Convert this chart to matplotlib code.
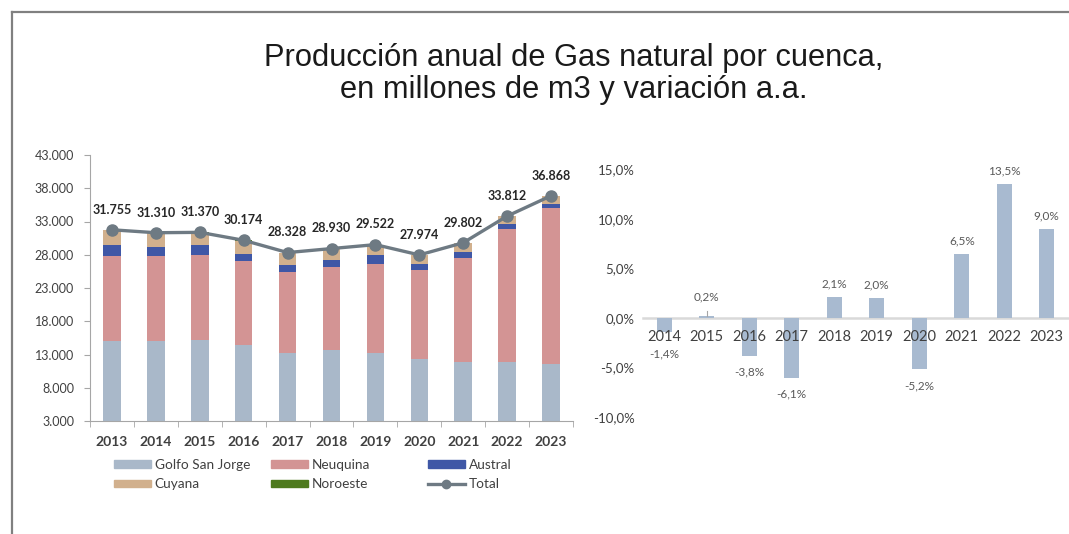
import matplotlib.pyplot as plt
from matplotlib.lines import Line2D
from matplotlib.patches import Patch

# data
years = [2013, 2014, 2015, 2016, 2017, 2018, 2019, 2020, 2021, 2022, 2023]
golfo = [15050, 15050, 15150, 14400, 13300, 13650, 13300, 12300, 11800, 11800, 11550]
neuquina = [12800, 12700, 12800, 12600, 12050, 12500, 13250, 13350, 15750, 20000, 23500]
austral = [1650, 1400, 1450, 1150, 1050, 1100, 1450, 1000, 850, 750, 600]
cuyana = [2150, 2060, 1870, 1930, 1850, 1610, 1450, 1260, 1340, 1210, 1170]
noroeste = [100, 100, 100, 90, 80, 70, 70, 60, 60, 50, 50]
total = [31755, 31310, 31370, 30174, 28328, 28930, 29522, 27974, 29802, 33812, 36868]

var_years = [2014, 2015, 2016, 2017, 2018, 2019, 2020, 2021, 2022, 2023]
variacion = [-1.4, 0.2, -3.8, -6.1, 2.1, 2.0, -5.2, 6.5, 13.5, 9.0]

c_golfo = '#A9B8C9'
c_neuq = '#D39494'
c_austral = '#3F57A6'
c_cuyana = '#D1B08D'
c_noroeste = '#4E7A1E'
c_total = '#6E7A83'
axis_gray = '#A6A6A6'
txt = '#404040'

plt.rcParams['font.family'] = ['Lato', 'DejaVu Sans']

fig = plt.figure(figsize=(10.69, 5.34), dpi=100)

# frame lines (top and left)
fig.add_artist(Line2D([12 / 1069, 1], [1 - 12 / 534, 1 - 12 / 534], color='#808080', lw=1.6))
fig.add_artist(Line2D([12 / 1069, 12 / 1069], [0, 1 - 12 / 534], color='#808080', lw=1.6))

fig.text(574 / 1069, 1 - 74 / 534,
         'Producción anual de Gas natural por cuenca,\nen millones de m3 y variación a.a.',
         ha='center', va='center', fontsize=22.2, family='Liberation Sans',
         color='#1a1a1a', linespacing=1.1)

# ---- left: stacked bars + total line
ax = fig.add_axes([90 / 1069, 1 - 421 / 534, 483 / 1069, 266 / 534])
x = list(range(len(years)))
w = 0.4
bottom = [0] * len(years)
for vals, col in [(golfo, c_golfo), (neuquina, c_neuq), (austral, c_austral),
                  (cuyana, c_cuyana), (noroeste, c_noroeste)]:
    ax.bar(x, vals, w, bottom=bottom, color=col, zorder=2)
    bottom = [b + v for b, v in zip(bottom, vals)]

ax.plot(x, total, color=c_total, lw=2.4, marker='o', ms=8, zorder=3)
for xi, t in zip(x, total):
    ax.annotate(f'{t:,}'.replace(',', '.'), (xi, t), xytext=(0, 14.5),
                textcoords='offset points', ha='center', va='center',
                fontsize=9, fontweight='bold', color='#262626')

ax.set_ylim(3000, 43000)
ax.set_xlim(-0.5, len(years) - 0.5)
ax.set_yticks(range(3000, 43001, 5000))
ax.set_yticklabels([f'{v:,}'.replace(',', '.') for v in range(3000, 43001, 5000)])
ax.set_xticks(x)
ax.set_xticklabels(years, fontweight='bold')
ax.set_xticks([i - 0.5 for i in range(len(years) + 1)], minor=True)
ax.tick_params(axis='x', which='major', length=0, pad=11, labelsize=10, colors=txt)
ax.tick_params(axis='x', which='minor', length=4, color=axis_gray)
ax.tick_params(axis='y', length=4, color=axis_gray, labelsize=9, colors=txt, pad=7.5)
for s in ['top', 'right']:
    ax.spines[s].set_visible(False)
for s in ['left', 'bottom']:
    ax.spines[s].set_color(axis_gray)

# legend, three columns placed separately
legend_cols = [
    ([Patch(color=c_golfo), Patch(color=c_cuyana)], ['Golfo San Jorge', 'Cuyana'], 114),
    ([Patch(color=c_neuq), Patch(color=c_noroeste)], ['Neuquina', 'Noroeste'], 271),
    ([Patch(color=c_austral), Line2D([], [], color=c_total, lw=2.4, marker='o', ms=6)],
     ['Austral', 'Total'], 428),
]
for handles, labels, xpos in legend_cols:
    fig.legend(handles, labels, loc='upper left', bbox_to_anchor=(xpos / 1069, 1 - 459 / 534),
               frameon=False, fontsize=9.8, handlelength=2.7, handleheight=0.45,
               handletextpad=0.3, labelspacing=0.55, borderpad=0, borderaxespad=0,
               labelcolor=txt)

# ---- right: annual variation
ax2 = fig.add_axes([643 / 1069, 1 - 417 / 534, 425 / 1069, 247.5 / 534])
ax2.set_axisbelow(False)
x2 = list(range(len(var_years)))
ax2.bar(x2, variacion, 0.36, color='#A8BAD0', zorder=1)
for xi, v in zip(x2, variacion):
    lab = f'{v:.1f}%'.replace('.', ',')
    if v >= 0:
        y = max(v, 0.75)
        ax2.annotate(lab, (xi, y), xytext=(0, 9.5), textcoords='offset points',
                     ha='center', va='center', fontsize=8.5, color='#595959')
        if y > v:
            ax2.plot([xi, xi], [v, y], color='#A6A6A6', lw=0.8, zorder=1)
    else:
        y = min(v, -2.0)
        ax2.annotate(lab, (xi, y), xytext=(0, -11.5), textcoords='offset points',
                     ha='center', va='center', fontsize=8.5, color='#595959')

ax2.set_ylim(-10, 15)
ax2.set_xlim(-0.5, len(var_years) - 0.5)
ax2.set_yticks([-10, -5, 0, 5, 10, 15])
ax2.set_yticklabels([f'{v:.1f}%'.replace('.', ',') for v in [-10, -5, 0, 5, 10, 15]])
ax2.set_xticks(x2)
ax2.set_xticklabels(var_years, fontweight='bold')
ax2.spines['bottom'].set_position(('data', 0))
ax2.spines['bottom'].set_color('#D9D9D9')
ax2.spines['bottom'].set_linewidth(1.8)
ax2.spines['bottom'].set_zorder(0.5)
for s in ['top', 'right', 'left']:
    ax2.spines[s].set_visible(False)
ax2.tick_params(axis='x', length=0, pad=8.5, labelsize=10.5, colors=txt)
ax2.tick_params(axis='y', length=0, pad=6, labelsize=9.5, colors=txt)

fig.savefig('out.png', dpi=100)
